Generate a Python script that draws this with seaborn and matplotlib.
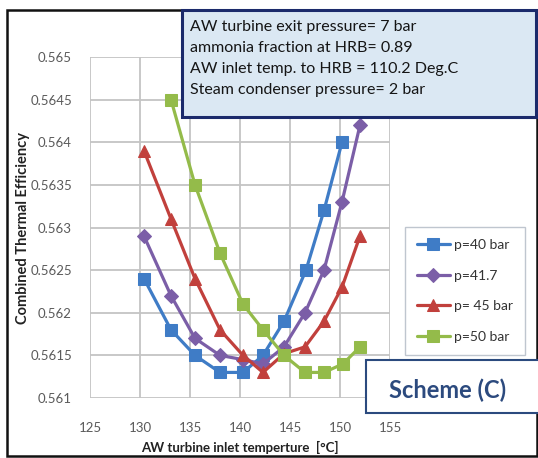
import numpy as np
import pandas as pd
import matplotlib
matplotlib.use("Agg")
import matplotlib.pyplot as plt
from matplotlib.patches import Rectangle
import seaborn as sns

# AW turbine inlet temperature (°C) and combined thermal efficiency per pressure
temp_40 = [130.4, 133.1, 135.5, 138.0, 140.3, 142.3, 144.4, 146.6, 148.4, 150.2]
eff_40 = [0.5624, 0.5618, 0.5615, 0.5613, 0.5613, 0.5615, 0.5619, 0.5625, 0.5632, 0.5640]

temp_417 = [130.4, 133.1, 135.5, 138.0, 140.3, 142.3, 144.4, 146.5, 148.4, 150.2, 152.0]
eff_417 = [0.5629, 0.5622, 0.5617, 0.5615, 0.56145, 0.5614, 0.5616, 0.5620, 0.5625, 0.5633, 0.5642]

temp_45 = [130.4, 133.1, 135.5, 138.0, 140.3, 142.3, 144.4, 146.5, 148.4, 150.2, 152.0]
eff_45 = [0.5639, 0.5631, 0.5624, 0.5618, 0.5615, 0.5613, 0.56152, 0.5616, 0.5619, 0.5623, 0.5629]

temp_50 = [133.1, 135.5, 138.0, 140.3, 142.3, 144.4, 146.5, 148.4, 150.3, 152.0]
eff_50 = [0.5645, 0.5635, 0.5627, 0.5621, 0.5618, 0.5615, 0.5613, 0.5613, 0.5614, 0.5616]

series_labels = ["p=40 bar", "p=41.7", "p= 45 bar", "p=50 bar"]
x_ticks = [125, 130, 135, 140, 145, 150, 155]
y_ticks = [0.561, 0.5615, 0.562, 0.5625, 0.563, 0.5635, 0.564, 0.5645, 0.565]
y_tick_labels = ["0.561", "0.5615", "0.562", "0.5625", "0.563", "0.5635", "0.564", "0.5645", "0.565"]

info_lines = [
    "AW turbine exit pressure= 7 bar",
    "ammonia fraction at HRB= 0.89",
    "AW inlet temp. to HRB = 110.2 Deg.C",
    "Steam condenser pressure= 2 bar",
]

frames = []
for lab, t, e in zip(series_labels, [temp_40, temp_417, temp_45, temp_50],
                     [eff_40, eff_417, eff_45, eff_50]):
    frames.append(pd.DataFrame({"T": t, "eff": e, "series": lab}))
df = pd.concat(frames, ignore_index=True)

sns.set_theme(style="white")
plt.rcParams["font.family"] = ["Lato", "DejaVu Sans"]

colors = {"p=40 bar": "#3f7cc6", "p=41.7": "#7b5ea7",
          "p= 45 bar": "#c1403c", "p=50 bar": "#94bb4a"}
markers = {"p=40 bar": "s", "p=41.7": "D", "p= 45 bar": "^", "p=50 bar": "s"}
msizes = {"p=40 bar": 9, "p=41.7": 7, "p= 45 bar": 9, "p=50 bar": 8.5}

W, H = 538, 458
fig = plt.figure(figsize=(W / 100, H / 100), dpi=100)
ax = fig.add_axes([90 / W, 1 - 398 / H, 300 / W, 341 / H])

for lab in series_labels:
    sub = df[df["series"] == lab]
    sns.lineplot(data=sub, x="T", y="eff", ax=ax, color=colors[lab],
                 marker=markers[lab], markersize=msizes[lab],
                 markeredgecolor=colors[lab], linewidth=2.3,
                 label=lab, legend=False, sort=False)

ax.set_xlim(125, 155)
ax.set_ylim(0.561, 0.565)
ax.set_xticks(x_ticks)
ax.set_yticks(y_ticks)
ax.set_yticklabels(y_tick_labels)
ax.grid(True, color="#c4c4c4", linewidth=1.3)
ax.set_axisbelow(True)
for s in ax.spines.values():
    s.set_visible(False)
ax.tick_params(axis="both", length=0, labelsize=9.5, colors="#5a5a5a")
ax.tick_params(axis="y", pad=13)
ax.tick_params(axis="x", pad=17)
ax.set_xlabel("AW turbine inlet temperture  [°C]", fontsize=9.5,
              fontweight="bold", color="#222222")
ax.set_ylabel("Combined Thermal Efficiency", fontsize=10.5,
              fontweight="bold", color="#222222")
ax.xaxis.set_label_coords(0.5, (398 - 441) / 341)
ax.yaxis.set_label_coords((30 - 90) / 300, 0.5)

# outer chart frame
fig.patches.append(Rectangle((7 / W, 1 - 456 / H), 530 / W, 446 / H,
                             transform=fig.transFigure, fill=False,
                             edgecolor="#111111", linewidth=1.8, zorder=0))

# legend
handles, labels = ax.get_legend_handles_labels()
leg = fig.legend(handles, labels, loc="upper left",
                 bbox_to_anchor=(405 / W, 1 - 227 / H), fontsize=10,
                 frameon=True, fancybox=False, handlelength=2.4,
                 labelspacing=1.35, borderpad=0.85, handletextpad=0.3,
                 borderaxespad=0)
leg.get_frame().set_edgecolor("#b0b8c4")
leg.get_frame().set_linewidth(1.0)
for t in leg.get_texts():
    t.set_color("#333333")

# parameter box
fig.patches.append(Rectangle((182 / W, 1 - 117 / H), 354 / W, 107 / H,
                             transform=fig.transFigure, facecolor="#dbe8f3",
                             edgecolor="#1b2a6b", linewidth=2.2, zorder=5))
for i, line in enumerate(info_lines):
    fig.text(190 / W, 1 - (27 + i * 21) / H, line, fontsize=11.5,
             color="#151515", va="center", ha="left", zorder=6)

# scheme label box
fig.patches.append(Rectangle((366 / W, 1 - 413 / H), 175 / W, 53 / H,
                             transform=fig.transFigure, facecolor="white",
                             edgecolor="#2b4a7e", linewidth=1.5, zorder=5))
fig.text(448 / W, 1 - 390 / H, "Scheme (C)", fontsize=17, fontweight="bold",
         color="#2c4a7e", ha="center", va="center", zorder=6)

fig.savefig("out.png", dpi=100)
